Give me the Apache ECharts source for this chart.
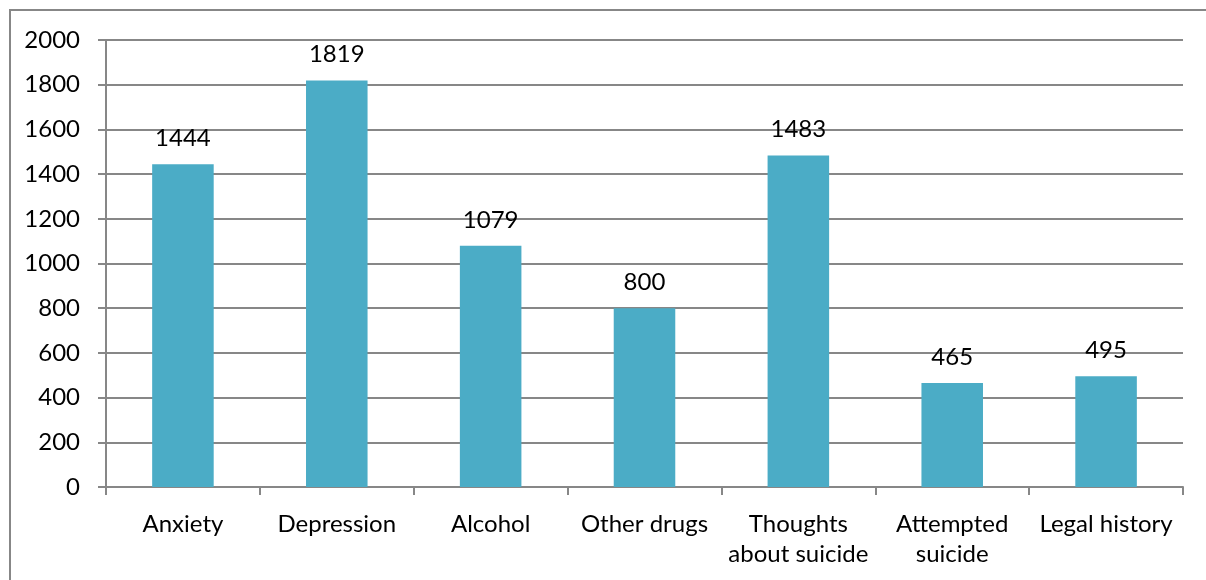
<!DOCTYPE html>
<html>
<head>
<meta charset="utf-8">
<script src="https://cdn.jsdelivr.net/npm/echarts@6/dist/echarts.min.js"></script>
<style>
  html, body { margin: 0; padding: 0; background: #fff; }
  #chart { width: 1206px; height: 580px; }
</style>
</head>
<body>
<div id="chart"></div>
<script>
  // data
  var categories = ['Anxiety', 'Depression', 'Alcohol', 'Other drugs', 'Thoughts\nabout suicide', 'Attempted\nsuicide', 'Legal history'];
  var values = [1444, 1819, 1079, 800, 1483, 465, 495];
  var yMin = 0, yMax = 2000, yStep = 200;

  var font = 'Lato, "Open Sans", sans-serif';
  var lineColor = '#878787';

  var myChart = echarts.init(document.getElementById('chart'));
  var option = {
    animation: false,
    graphic: [{
      type: 'rect',
      shape: { x: 10, y: 10, width: 1400, height: 800 },
      style: { fill: 'none', stroke: lineColor, lineWidth: 2 },
      silent: true
    }],
    grid: {
      left: 106,
      right: 23,
      top: 40,
      bottom: 93
    },
    xAxis: {
      type: 'category',
      data: categories,
      axisLine: { lineStyle: { color: lineColor, width: 2 } },
      axisTick: { show: true, length: 8, lineStyle: { color: lineColor, width: 2 } },
      axisLabel: { color: '#000', fontFamily: font, fontSize: 24, margin: 22, lineHeight: 30, interval: 0 }
    },
    yAxis: {
      type: 'value',
      min: yMin,
      max: yMax,
      interval: yStep,
      axisLine: { show: true, lineStyle: { color: lineColor, width: 2 } },
      axisTick: { show: true, length: 8, lineStyle: { color: lineColor, width: 2 } },
      splitLine: { lineStyle: { color: lineColor, width: 2 } },
      axisLabel: {
        color: '#000', fontFamily: font, fontSize: 24, margin: 26,
        formatter: function (v) { return String(v); }
      }
    },
    series: [{
      type: 'bar',
      data: values,
      barWidth: '40%',
      itemStyle: { color: '#4BACC6' },
      label: {
        show: true,
        position: 'top',
        distance: 14,
        color: '#000',
        fontFamily: font,
        fontSize: 24
      }
    }]
  };
  myChart.setOption(option);
</script>
</body>
</html>
